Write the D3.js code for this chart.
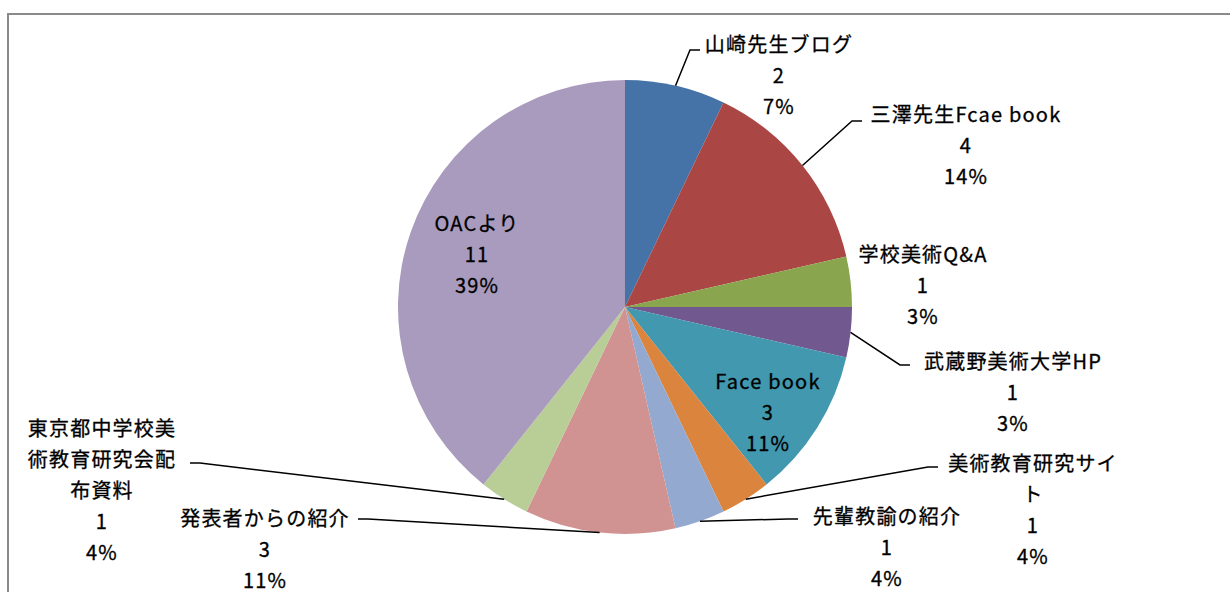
<!DOCTYPE html>
<html>
<head>
<meta charset="utf-8">
<script src="https://cdn.jsdelivr.net/npm/d3@7"></script>
<style>
  body { margin: 0; background: #fff; }
  svg text { font-family: "Noto Sans CJK JP", "Noto Sans", sans-serif; font-size: 20px; letter-spacing: 1.2px; fill: #000; stroke: #000; stroke-width: 0.3px; }
</style>
</head>
<body>
<div id="chart"></div>
<script>
// chart data
var categories = ["山崎先生ブログ", "三澤先生Fcae book", "学校美術Q&A", "武蔵野美術大学HP", "Face book",
  "美術教育研究サイト", "先輩教諭の紹介", "発表者からの紹介", "東京都中学校美術教育研究会配布資料", "OACより"];
var counts = [2, 4, 1, 1, 3, 1, 1, 3, 1, 11];
var percentLabels = ["7%", "14%", "3%", "3%", "11%", "4%", "4%", "11%", "4%", "39%"];
var colors = ["#4572a7", "#aa4643", "#89a54e", "#71588f", "#4198af", "#db843d", "#93a9cf", "#d19392", "#b9cd96", "#a99bbd"];

// where each data label sits (first line centre) and the bend of its leader line
var labelLayout = [
  { x: 779, y: 43, knee: [690, 50] },
  { x: 966, y: 113, knee: [852, 121] },
  { x: 923, y: 253, knee: null },
  { x: 1013, y: 360, knee: [900, 365] },
  { x: 768, y: 380, knee: null },
  { x: 1033, y: 462, knee: [928, 467], wrap: 8 },
  { x: 887, y: 515, knee: [788, 519] },
  { x: 265, y: 517, knee: [368, 519] },
  { x: 102, y: 427, knee: [200, 463], wrap: 7 },
  { x: 477, y: 222, knee: null }
];

var width = 1230, height = 592;
var cx = 625, cy = 307, radius = 227;
var lineStep = 31;

var svg = d3.select("#chart").append("svg")
  .attr("width", width).attr("height", height);

// chart area frame (runs off the right and bottom of the picture)
svg.append("rect")
  .attr("x", 8).attr("y", 14)
  .attr("width", width + 20).attr("height", height + 20)
  .attr("fill", "none").attr("stroke", "#8a8a8a").attr("stroke-width", 2);

var data = categories.map(function (c, i) {
  return { name: c, value: counts[i], pct: percentLabels[i], color: colors[i], layout: labelLayout[i] };
});

var pie = d3.pie().sort(null).value(function (d) { return d.value; });
var arc = d3.arc().innerRadius(0).outerRadius(radius);
var arcs = pie(data);

var g = svg.append("g").attr("transform", "translate(" + cx + "," + cy + ")");
g.selectAll("path.slice").data(arcs).enter().append("path")
  .attr("class", "slice")
  .attr("d", arc)
  .attr("fill", function (d) { return d.data.color; });

// leader lines
arcs.forEach(function (d) {
  var L = d.data.layout;
  if (!L.knee) return;
  var mid = (d.startAngle + d.endAngle) / 2;
  var p0 = [cx + Math.sin(mid) * radius, cy - Math.cos(mid) * radius];
  var k = L.knee;
  var endX = k[0] < L.x ? k[0] + 10 : k[0] - 10;
  svg.append("path")
    .attr("d", d3.line()([p0, k, [endX, k[1]]]))
    .attr("fill", "none").attr("stroke", "#000").attr("stroke-width", 1.5);
});

// labels: name (wrapped), value, percent
function wrapName(name, n) {
  if (!n) return [name];
  var out = [];
  for (var i = 0; i < name.length; i += n) out.push(name.slice(i, i + n));
  return out;
}

arcs.forEach(function (d) {
  var L = d.data.layout;
  var lines = wrapName(d.data.name, L.wrap).concat([String(d.data.value), d.data.pct]);
  var t = svg.append("text")
    .attr("text-anchor", "middle");
  lines.forEach(function (s, i) {
    t.append("tspan")
      .attr("x", L.x)
      .attr("y", L.y + i * lineStep)
      .attr("dominant-baseline", "central")
      .text(s);
  });
});
</script>
</body>
</html>
